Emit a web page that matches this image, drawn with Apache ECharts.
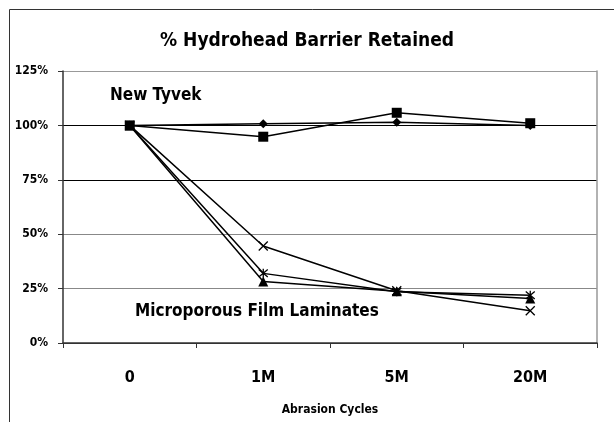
<!DOCTYPE html>
<html>
<head>
<meta charset="utf-8">
<script src="https://cdn.jsdelivr.net/npm/echarts@6/dist/echarts.min.js"></script>
<style>
  html, body { margin: 0; padding: 0; background: #fff; }
  #chart { width: 614px; height: 422px; }
</style>
</head>
<body>
<div id="chart"></div>
<script>
// abrasion cycles
const cycles = ['0', '1M', '5M', '20M']
// % retained
const tyvekDiamond = [100, 100.8, 101.4, 100]
const tyvekSquare = [100, 94.8, 105.8, 101]
const filmCross = [100, 44.6, 24, 14.8]
const filmTriangle = [100, 28.3, 23.8, 20.5]
const filmStar = [100, 32, 23.5, 22]
const yTicks = [0, 25, 50, 75, 100, 125]

const font = '"DejaVu Sans Condensed", "Liberation Sans Narrow", "DejaVu Sans", sans-serif'
const crossPath = 'path://M0,0L10,10M10,0L0,10'
const starPath = 'path://M0,0L10,10M10,0L0,10M5,-1L5,11'

const myChart = echarts.init(document.getElementById('chart'))

function lineSeries (name, data, symbol, size, hollow) {
  return {
    name: name,
    type: 'line',
    data: data,
    symbol: symbol,
    symbolSize: size,
    lineStyle: { color: '#000', width: 1.5 },
    itemStyle: hollow
      ? { color: 'none', borderColor: '#000', borderWidth: 1.3 }
      : { color: '#000', borderColor: '#000', borderWidth: 0 },
    emphasis: { disabled: true },
    animation: false
  }
}

const option = {
  backgroundColor: '#fff',
  animation: false,
  title: {
    text: '% Hydrohead Barrier Retained',
    left: 'center',
    top: 27,
    textStyle: { fontFamily: font, fontWeight: 'bold', fontSize: 19, color: '#000' }
  },
  graphic: [
    {
      type: 'rect',
      shape: { x: 9.5, y: 9.5, width: 640, height: 440 },
      style: { fill: 'none', stroke: '#333', lineWidth: 1 },
      silent: true
    },
    {
      type: 'text',
      left: 110,
      top: 87,
      style: { text: 'New Tyvek', font: 'bold 17px ' + font, fill: '#000' }
    },
    {
      type: 'text',
      left: 135,
      top: 303,
      style: { text: 'Microporous Film Laminates', font: 'bold 17px ' + font, fill: '#000' }
    }
  ],
  grid: { left: 63, right: 17, top: 71, bottom: 79 },
  xAxis: {
    type: 'category',
    data: cycles,
    boundaryGap: true,
    name: 'Abrasion Cycles',
    nameLocation: 'middle',
    nameGap: 61,
    nameTextStyle: { fontFamily: font, fontWeight: 'bold', fontSize: 12, color: '#000' },
    axisLine: { lineStyle: { color: '#333', width: 1.5 } },
    axisTick: { show: true, length: 5, lineStyle: { color: '#333' } },
    axisLabel: { fontFamily: font, fontWeight: 'bold', fontSize: 16, color: '#000', margin: 27 }
  },
  yAxis: [
    {
      type: 'value',
      min: 0,
      max: 125,
      interval: 25,
      axisLine: { show: true, lineStyle: { color: '#333', width: 1.5 } },
      axisTick: { show: true, length: 5, lineStyle: { color: '#333' } },
      axisLabel: {
        fontFamily: font,
        fontWeight: 'bold',
        fontSize: 12,
        color: '#000',
        margin: 15,
        formatter: function (v) { return yTicks.indexOf(v) >= 0 ? v + '%' : '' }
      },
      splitLine: {
        lineStyle: { color: ['#333', '#888', '#888', '#000', '#000', '#999'], width: 1.2 }
      }
    },
    {
      type: 'value',
      min: 0,
      max: 125,
      interval: 25,
      position: 'right',
      axisLine: { show: true, lineStyle: { color: '#999', width: 1.5 } },
      axisTick: { show: false },
      axisLabel: { show: false },
      splitLine: { show: false }
    }
  ],
  series: [
    lineSeries('Tyvek A', tyvekDiamond, 'diamond', 9, false),
    lineSeries('Tyvek B', tyvekSquare, 'rect', 10, false),
    lineSeries('Film A', filmCross, crossPath, 9, true),
    lineSeries('Film B', filmTriangle, 'triangle', 10, false),
    lineSeries('Film C', filmStar, starPath, 9, true)
  ]
}
myChart.setOption(option)
</script>
</body>
</html>
